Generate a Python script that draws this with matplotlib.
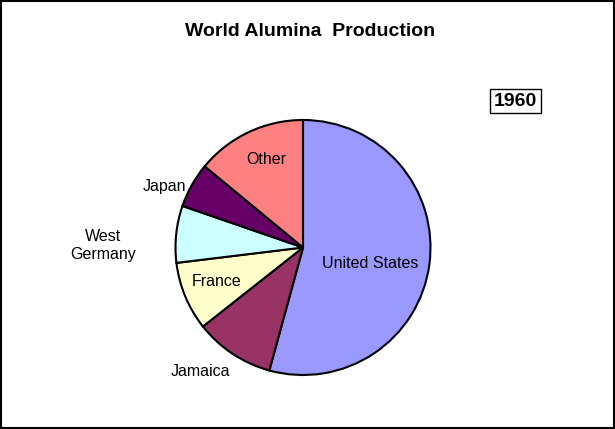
import numpy as np
import matplotlib.pyplot as plt
from matplotlib.patches import Rectangle

plt.rcParams["font.family"] = ["Liberation Sans", "DejaVu Sans"]

# share of world alumina production, 1960 (%), clockwise from 12 o'clock
countries = ["United States", "Jamaica", "France", "West\nGermany", "Japan", "Other"]
shares = [54.2, 10.1, 8.7, 7.2, 5.7, 14.0]
colors = ["#9999FF", "#993366", "#FFFFCC", "#CCFFFF", "#660066", "#FF8080"]

# label placement: (angle in degrees, distance as fraction of radius)
label_pos = [(-13.4, 0.54), (230.3, 1.26), (201.6, 0.73),
             (179.4, 1.57), (156.3, 1.19), (112.8, 0.75)]

W, H = 615, 429


def main():
    fig = plt.figure(figsize=(W / 100, H / 100), dpi=100)
    ax = fig.add_axes([0, 0, 1, 1])

    cx, cy, r = 303, H - 247.5, 127.5
    ax.pie(shares, colors=colors, startangle=90, counterclock=False,
           center=(cx, cy), radius=r, frame=True,
           wedgeprops=dict(edgecolor="black", linewidth=1.5))
    ax.set_xlim(0, W)
    ax.set_ylim(0, H)
    ax.set_aspect("equal")
    ax.axis("off")

    for name, (ang, d) in zip(countries, label_pos):
        a = np.deg2rad(ang)
        ax.text(cx + d * r * np.cos(a), cy + d * r * np.sin(a), name,
                ha="center", va="center", fontsize=11.5, linespacing=1.3)

    ax.text(310.5, H - 32, "World Alumina  Production", ha="center",
            va="center", fontsize=14, fontweight="bold")
    ax.text(515.5, H - 101, "1960", ha="center", va="center", fontsize=14,
            fontweight="bold",
            bbox=dict(boxstyle="square,pad=0.2", facecolor="white",
                      edgecolor="black", linewidth=1))

    fig.patches.append(Rectangle((0.0015, 0.002), 0.997, 0.996,
                                 transform=fig.transFigure, fill=False,
                                 edgecolor="black", linewidth=1.5))

    fig.savefig("out.png", dpi=100)
    plt.close(fig)


if __name__ == "__main__":
    main()
